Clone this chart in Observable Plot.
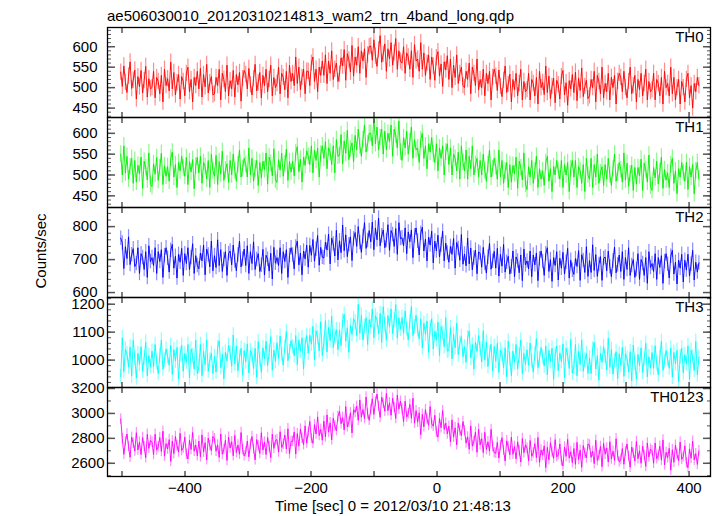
<!DOCTYPE html>
<html><head><meta charset="utf-8">
<script src="https://cdn.jsdelivr.net/npm/d3@7"></script>
<script src="https://cdn.jsdelivr.net/npm/@observablehq/plot@0.6"></script>
<style>
body{margin:0;background:#fff;}
#chart{position:relative;width:717px;height:516px;font-family:"Liberation Sans",Arial,sans-serif;color:#000;}
#chart svg{position:absolute;left:0;overflow:visible;background:transparent;}
.lbl{position:absolute;font-size:15px;line-height:15px;white-space:nowrap;}
</style></head><body><div id="chart"></div>
<script>
// time grid of the light curve bins (sec from 2012/03/10 21:48:13)
const t0 = -502, binSize = 2.48;

const th0 = [
538,503,553,513,488,528,563,498,518,543,
472,527,502,542,487,517,552,477,522,497,
500,540,475,525,515,485,530,465,545,505,
522,492,562,497,537,482,512,532,472,527,
515,480,535,550,490,520,465,525,505,540,
497,547,477,532,502,557,487,512,527,482,
485,525,505,545,470,535,520,490,555,480,
517,497,542,477,532,507,537,467,522,542,
532,497,547,507,482,522,557,492,512,537,
475,530,505,545,490,520,555,480,525,500,
510,550,485,535,525,495,540,475,555,515,
535,505,575,510,550,495,525,545,485,540,
540,505,560,575,515,545,490,550,530,565,
530,580,510,565,535,590,520,545,560,515,
533,573,553,593,518,583,568,538,603,528,
575,555,600,535,590,565,595,525,580,600,
602,567,617,577,552,592,627,562,582,607,
540,595,570,610,555,585,620,545,590,565,
560,600,535,585,575,545,590,525,605,565,
570,540,610,545,585,530,560,580,520,575,
553,518,573,588,528,558,503,563,543,578,
520,570,500,555,525,580,510,535,550,505,
500,540,520,560,485,550,535,505,570,495,
520,500,545,480,535,510,540,470,525,545,
528,493,543,503,478,518,553,488,508,533,
465,520,495,535,480,510,545,470,515,490,
495,535,470,520,510,480,525,460,540,500,
513,483,553,488,528,473,503,523,463,518,
507,472,527,542,482,512,457,517,497,532,
488,538,468,523,493,548,478,503,518,473,
480,520,500,540,465,530,515,485,550,475,
510,490,535,470,525,500,530,460,515,535,
525,490,540,500,475,515,550,485,505,530,
465,520,495,535,480,510,545,470,515,490,
495,535,470,520,510,480,525,460,540,500,
510,480,550,485,525,470,500,520,460,515,
500,465,520,535,475,505,450,510,490,525,505];

const th1 = [
550,500,570,505,545,490,520,540,480,535,
483,523,503,543,468,533,518,488,553,478,
472,527,502,542,487,517,552,477,522,497,
520,485,540,555,495,525,470,530,510,545,
517,497,542,477,532,507,537,467,522,542,
505,545,480,530,520,490,535,470,550,510,
497,547,477,532,502,557,487,512,527,482,
535,500,550,510,485,525,560,495,515,540,
525,495,565,500,540,485,515,535,475,530,
493,533,513,553,478,543,528,498,563,488,
482,537,512,552,497,527,562,487,532,507,
533,498,553,568,508,538,483,543,523,558,
545,525,570,505,560,535,565,495,550,570,
540,580,515,565,555,525,570,505,585,545,
547,597,527,582,552,607,537,562,577,532,
595,560,610,570,545,585,620,555,575,600,
600,570,640,575,615,560,590,610,550,605,
560,600,580,620,545,610,595,565,630,555,
535,590,565,605,550,580,615,540,585,560,
565,530,585,600,540,570,515,575,555,590,
550,530,575,510,565,540,570,500,555,575,
525,565,500,550,540,510,555,490,570,530,
510,560,490,545,515,570,500,525,540,495,
535,500,550,510,485,525,560,495,515,540,
520,490,560,495,535,480,510,530,470,525,
483,523,503,543,468,533,518,488,553,478,
465,520,495,535,480,510,545,470,515,490,
510,475,530,545,485,515,460,520,500,535,
510,490,535,470,525,500,530,460,515,535,
495,535,470,520,510,480,525,460,540,500,
490,540,470,525,495,550,480,505,520,475,
525,490,540,500,475,515,550,485,505,530,
513,483,553,488,528,473,503,523,463,518,
478,518,498,538,463,528,513,483,548,473,
463,518,493,533,478,508,543,468,513,488,
505,470,525,540,480,510,455,515,495,530,
505,485,530,465,520,495,525,455,510,530,490];

const th2 = [
765,750,673,739,703,769,685,715,733,679,
688,736,658,718,706,670,724,646,742,694,
706,682,736,658,724,694,730,646,712,736,
704,662,728,746,674,710,644,716,692,734,
652,718,688,736,670,706,748,658,712,682,
672,720,696,744,654,732,714,678,756,666,
712,676,760,682,730,664,700,724,652,718,
726,684,744,696,666,714,756,678,702,732,
682,742,658,724,688,754,670,700,718,664,
683,731,653,713,701,665,719,641,737,689,
706,682,736,658,724,694,730,646,712,736,
714,672,738,756,684,720,654,726,702,744,
677,743,713,761,695,731,773,683,737,707,
705,753,729,777,687,765,747,711,789,699,
757,721,805,727,775,709,745,769,697,763,
782,740,800,752,722,770,812,734,758,788,
754,814,730,796,760,826,742,772,790,736,
758,806,728,788,776,740,794,716,812,764,
766,742,796,718,784,754,790,706,772,796,
756,714,780,798,726,762,696,768,744,786,
690,756,726,774,708,744,786,696,750,720,
692,740,716,764,674,752,734,698,776,686,
717,681,765,687,735,669,705,729,657,723,
719,677,737,689,659,707,749,671,695,725,
674,734,650,716,680,746,662,692,710,656,
678,726,648,708,696,660,714,636,732,684,
696,672,726,648,714,684,720,636,702,726,
694,652,718,736,664,700,634,706,682,724,
638,704,674,722,656,692,734,644,698,668,
655,703,679,727,637,715,697,661,739,649,
697,661,745,667,715,649,685,709,637,703,
708,666,726,678,648,696,738,660,684,714,
664,724,640,706,670,736,652,682,700,646,
670,718,640,700,688,652,706,628,724,676,
688,664,718,640,706,676,712,628,694,718,
686,644,710,728,656,692,626,698,674,716,
632,698,668,716,650,686,728,638,692,662,690];

const th3 = [
940,1080,959,1039,1023,975,1047,943,1071,1007,
936,1024,984,1048,960,1008,1064,944,1016,976,
1032,976,1056,992,952,1016,1072,968,1000,1040,
1013,981,1053,949,1037,997,1045,933,1021,1053,
960,1024,992,1056,936,1040,1016,968,1072,952,
976,1056,944,1032,984,1072,960,1000,1024,952,
1013,957,1045,1069,973,1021,933,1029,997,1053,
1026,978,1090,986,1050,962,1010,1042,946,1034,
994,1058,954,1034,1018,970,1042,938,1066,1002,
956,1044,1004,1068,980,1028,1084,964,1036,996,
1062,1006,1086,1022,982,1046,1102,998,1030,1070,
1048,1016,1088,984,1072,1032,1080,968,1056,1088,
1025,1089,1057,1121,1001,1105,1081,1033,1137,1017,
1061,1141,1029,1117,1069,1157,1045,1085,1109,1037,
1108,1052,1140,1164,1068,1116,1028,1124,1092,1148,
1136,1088,1200,1096,1160,1072,1120,1152,1056,1144,
1119,1183,1079,1159,1143,1095,1167,1063,1191,1127,
1071,1159,1119,1183,1095,1143,1199,1079,1151,1111,
1152,1096,1176,1112,1072,1136,1192,1088,1120,1160,
1108,1076,1148,1044,1132,1092,1140,1028,1116,1148,
1040,1104,1072,1136,1016,1120,1096,1048,1152,1032,
1036,1116,1004,1092,1044,1132,1020,1060,1084,1012,
1048,992,1080,1104,1008,1056,968,1064,1032,1088,
1041,993,1105,1001,1065,977,1025,1057,961,1049,
996,1060,956,1036,1020,972,1044,940,1068,1004,
944,1032,992,1056,968,1016,1072,952,1024,984,
1037,981,1061,997,957,1021,1077,973,1005,1045,
1011,979,1051,947,1035,995,1043,931,1019,1051,
962,1026,994,1058,938,1042,1018,970,1074,954,
976,1056,944,1032,984,1072,960,1000,1024,952,
1008,952,1040,1064,968,1016,928,1024,992,1048,
1014,966,1078,974,1038,950,998,1030,934,1022,
982,1046,942,1022,1006,958,1030,926,1054,990,
932,1020,980,1044,956,1004,1060,940,1012,972,
1027,971,1051,987,947,1011,1067,963,995,1035,
1003,971,1043,939,1027,987,1035,923,1011,1043,
955,1019,987,1051,931,1035,1011,963,1067,947,1010];

const th0123 = [
2955,2798,2672,2772,2835,2735,2648,2810,2760,2698,
2845,2707,2770,2670,2807,2733,2645,2833,2720,2783,
2770,2670,2833,2707,2733,2807,2695,2857,2657,2757,
2715,2790,2615,2778,2678,2815,2740,2690,2840,2702,
2723,2810,2673,2635,2785,2710,2847,2697,2747,2660,
2778,2652,2828,2690,2765,2628,2802,2740,2702,2815,
2797,2697,2747,2647,2835,2673,2710,2785,2623,2810,
2723,2773,2660,2823,2685,2747,2673,2847,2710,2660,
2690,2778,2652,2752,2815,2715,2628,2790,2740,2678,
2845,2707,2770,2670,2807,2733,2645,2833,2720,2783,
2790,2690,2853,2727,2753,2827,2715,2877,2677,2777,
2775,2850,2675,2838,2738,2875,2800,2750,2900,2762,
2848,2935,2798,2760,2910,2835,2972,2822,2872,2785,
2938,2812,2988,2850,2925,2788,2962,2900,2862,2975,
3017,2917,2967,2867,3055,2893,2930,3005,2843,3030,
3008,3058,2945,3108,2970,3032,2958,3132,2995,2945,
3030,3118,2992,3092,3155,3055,2968,3130,3080,3018,
3160,3022,3085,2985,3122,3048,2960,3148,3035,3098,
3035,2935,3098,2972,2998,3072,2960,3122,2922,3022,
2930,3005,2830,2993,2893,3030,2955,2905,3055,2917,
2898,2985,2848,2810,2960,2885,3022,2872,2922,2835,
2898,2772,2948,2810,2885,2748,2922,2860,2822,2935,
2862,2762,2812,2712,2900,2738,2775,2850,2688,2875,
2748,2798,2685,2848,2710,2772,2698,2872,2735,2685,
2680,2768,2642,2742,2805,2705,2618,2780,2730,2668,
2810,2672,2735,2635,2772,2698,2610,2798,2685,2748,
2720,2620,2783,2657,2683,2757,2645,2807,2607,2707,
2665,2740,2565,2728,2628,2765,2690,2640,2790,2652,
2668,2755,2618,2580,2730,2655,2792,2642,2692,2605,
2718,2592,2768,2630,2705,2568,2742,2680,2642,2755,
2747,2647,2697,2597,2785,2623,2660,2735,2573,2760,
2673,2723,2610,2773,2635,2697,2623,2797,2660,2610,
2630,2718,2592,2692,2755,2655,2568,2730,2680,2618,
2775,2637,2700,2600,2737,2663,2575,2763,2650,2713,
2700,2600,2763,2637,2663,2737,2625,2787,2587,2687,
2645,2720,2545,2708,2608,2745,2670,2620,2770,2632,
2653,2740,2603,2565,2715,2640,2777,2627,2677,2590,2700];

const seriesValues = [th0, th1, th2, th3, th0123];
const seriesNames = ["TH0", "TH1", "TH2", "TH3", "TH0123"];
const seriesColors = ["#ff0000", "#00f000", "#0000ff", "#00ffff", "#ff00ff"];
const seriesErrors = [20, 20, 22, 26, 42];
const yDomains = [[427, 647], [422, 638], [585, 858], [902, 1224], [2494, 3208]];
const yLabelTicks = [[450, 500, 550, 600], [450, 500, 550, 600], [600, 700, 800], [1000, 1100, 1200], [2600, 2800, 3000, 3200]];
const yMinorStep = [10, 10, 20, 20, 100];
const xDomain = [-523, 434];
const xTicks = [-500, -400, -300, -200, -100, 0, 100, 200, 300, 400];
const xLabelTicks = [-400, -200, 0, 200, 400];
const titleText = "ae506030010_20120310214813_wam2_trn_4band_long.qdp";
const xLabelText = "Time [sec] 0 = 2012/03/10 21:48:13";
const yLabelText = "Counts/sec";

// layout
const panelTops = [27, 117, 207, 297, 387];
const panelBottom = 476;
const font = '"Liberation Sans", Arial, sans-serif';
const tickColor = "#555";

const chart = document.getElementById("chart");

seriesValues.forEach((vals, i) => {
  const top = panelTops[i];
  const h = (i < 4 ? panelTops[i + 1] : panelBottom) - top;
  const isLast = i === 4;
  const data = vals.map((v, j) => ({t: t0 + j * binSize, v}));
  const [lo, hi] = yDomains[i];
  const step = yMinorStep[i];
  const minor = d3.range(Math.ceil(lo / step) * step, hi, step);
  const color = seriesColors[i];
  const err = seriesErrors[i];
  const mb = isLast ? 40 : 0;
  const plot = Plot.plot({
    width: 717,
    height: h + mb,
    marginLeft: 107, marginRight: 7, marginTop: 0, marginBottom: mb,
    style: {fontFamily: font, fontSize: "15px", overflow: "visible", background: "transparent", color: "#000"},
    x: {domain: xDomain, axis: null},
    y: {domain: yDomains[i], axis: null},
    marks: [
      Plot.ruleX(data, {x: "t", y1: d => d.v - err, y2: d => d.v + err, stroke: color, strokeOpacity: 0.45, strokeWidth: 1.2, clip: true}),
      Plot.line(data, {x: "t", y: "v", stroke: color, strokeWidth: 0.9, clip: true}),
      Plot.axisY(minor, {anchor: "left", tickSize: -4, fill: "none", label: null, stroke: tickColor}),
      Plot.axisY(minor, {anchor: "right", tickSize: -4, fill: "none", label: null, stroke: tickColor}),
      Plot.axisY(yLabelTicks[i], {anchor: "left", tickSize: -8, fill: "none", label: null, stroke: tickColor, strokeWidth: 1.5}),
      Plot.axisY(yLabelTicks[i], {anchor: "right", tickSize: -8, fill: "none", label: null, stroke: tickColor, strokeWidth: 1.5}),
      Plot.axisY(yLabelTicks[i], {anchor: "left", tickSize: 0, tickPadding: i >= 3 ? 3 : 10, label: null, fontSize: 15, tickFormat: "d"}),
      Plot.axisX(xTicks, {anchor: "top", tickSize: -5, fill: "none", label: null, stroke: tickColor, strokeWidth: 1.5}),
      Plot.axisX(xTicks, {anchor: "bottom", tickSize: -5, fill: "none", label: null, stroke: tickColor, strokeWidth: 1.5}),
      isLast ? Plot.axisX(xLabelTicks, {anchor: "bottom", tickSize: 0, tickPadding: 6, label: null, fontSize: 15}) : null,
      Plot.frame({stroke: "#000", strokeWidth: 1.3}),
      Plot.text([seriesNames[i]], {frameAnchor: "top-right", dx: -7, dy: 4, fontSize: 15, fill: "#000"})
    ]
  });
  plot.style.top = top + "px";
  chart.appendChild(plot);
});

function addLabel(text, css) {
  const d = document.createElement("div");
  d.className = "lbl";
  d.textContent = text;
  Object.assign(d.style, css);
  chart.appendChild(d);
}
addLabel(titleText, {left: "107px", top: "8px"});
addLabel(xLabelText, {left: "275px", top: "498px"});
addLabel(yLabelText, {left: "40px", top: "251px", transform: "translate(-50%,-50%) rotate(-90deg)"});
</script></body></html>
